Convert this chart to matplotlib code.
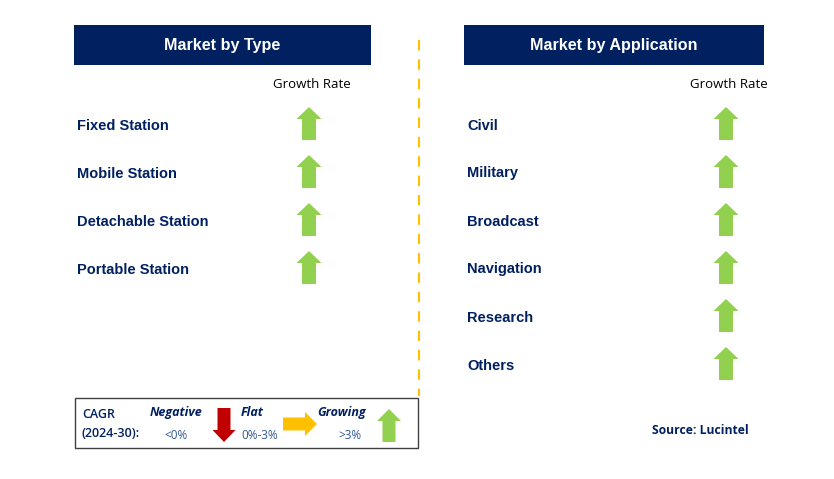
import matplotlib.pyplot as plt
from matplotlib.patches import Rectangle, Polygon

types = ['Fixed Station', 'Mobile Station', 'Detachable Station', 'Portable Station']
applications = ['Civil', 'Military', 'Broadcast', 'Navigation', 'Research', 'Others']
type_trend = ['up', 'up', 'up', 'up']
app_trend = ['up', 'up', 'up', 'up', 'up', 'up']

navy = '#002060'
green = '#92D050'
red = '#C00000'
amber = '#FFC000'

fig = plt.figure(figsize=(8.34, 4.79), dpi=100)
ax = fig.add_axes([0, 0, 1, 1])
ax.set_xlim(0, 834)
ax.set_ylim(479, 0)
ax.axis('off')


def up_arrow(cx, top, h=33, w=25, sw=14, hh=12, color=green):
    pts = [(cx, top), (cx + w / 2, top + hh), (cx + sw / 2, top + hh),
           (cx + sw / 2, top + h), (cx - sw / 2, top + h),
           (cx - sw / 2, top + hh), (cx - w / 2, top + hh)]
    ax.add_patch(Polygon(pts, closed=True, color=color, lw=0))


def down_arrow(cx, top, h=33, w=25, sw=14, hh=12, color=red):
    bot = top + h
    pts = [(cx, bot), (cx + w / 2, bot - hh), (cx + sw / 2, bot - hh),
           (cx + sw / 2, top), (cx - sw / 2, top),
           (cx - sw / 2, bot - hh), (cx - w / 2, bot - hh)]
    ax.add_patch(Polygon(pts, closed=True, color=color, lw=0))


def right_arrow(left, cy, w=35, h=24, sh=13, hw=12, color=amber):
    r = left + w
    pts = [(r, cy), (r - hw, cy - h / 2), (r - hw, cy - sh / 2),
           (left, cy - sh / 2), (left, cy + sh / 2),
           (r - hw, cy + sh / 2), (r - hw, cy + h / 2)]
    ax.add_patch(Polygon(pts, closed=True, color=color, lw=0))


def panel(x0, x1, title, items, trends, arrow_x):
    ax.add_patch(Rectangle((x0, 25), x1 - x0, 40, color=navy, lw=0))
    ax.text((x0 + x1) / 2, 45, title, color='white', fontsize=11.6,
            fontweight='bold', family='Liberation Sans', ha='center', va='center')
    ax.text(arrow_x + 3, 84, 'Growth Rate', color='black', fontsize=9.5,
            family='Open Sans', ha='center', va='center')
    for i, (name, t) in enumerate(zip(items, trends)):
        y = 124 + 48 * i
        ax.text(x0 + 3, y + 1.5, name, color=navy, fontsize=10.5, fontweight='bold',
                family='Liberation Sans', ha='left', va='center')
        if t == 'up':
            up_arrow(arrow_x, y - 17)


panel(74, 371, 'Market by Type', types, type_trend, 309)
panel(464, 764, 'Market by Application', applications, app_trend, 726)

ax.plot([419, 419], [40, 396], color=amber, lw=1.5, dashes=(5, 4.3))

# legend box
ax.add_patch(Rectangle((75, 398), 343, 50, fill=False, ec='#404040', lw=1))
lf = dict(family='Open Sans', va='baseline')
ax.text(82, 418, 'CAGR', color=navy, fontsize=9, fontweight='semibold', **lf)
ax.text(82, 437, '(2024-30):', color=navy, fontsize=9, fontweight='semibold', **lf)
ax.text(176, 416, 'Negative', color=navy, fontsize=9, fontweight='bold',
        style='italic', ha='center', **lf)
ax.text(176, 439, '<0%', color='#2F5597', fontsize=8.5, ha='center', **lf)
down_arrow(224, 408, h=34, w=23, sw=13, hh=12)
ax.text(252, 416, 'Flat', color=navy, fontsize=9, fontweight='bold',
        style='italic', ha='center', **lf)
ax.text(260, 439, '0%-3%', color='#2F5597', fontsize=8.5, ha='center', **lf)
right_arrow(283, 424, w=34, h=24, sh=13, hw=12)
ax.text(342, 416, 'Growing', color=navy, fontsize=9, fontweight='bold',
        style='italic', ha='center', **lf)
ax.text(350, 439, '>3%', color='#2F5597', fontsize=8.5, ha='center', **lf)
up_arrow(389, 409, h=33, w=24, sw=13, hh=12)

ax.text(700, 430, 'Source: Lucintel', color=navy, fontsize=8.7,
        fontweight='bold', family='Open Sans', ha='center', va='center')

fig.savefig('out.png', dpi=100)
